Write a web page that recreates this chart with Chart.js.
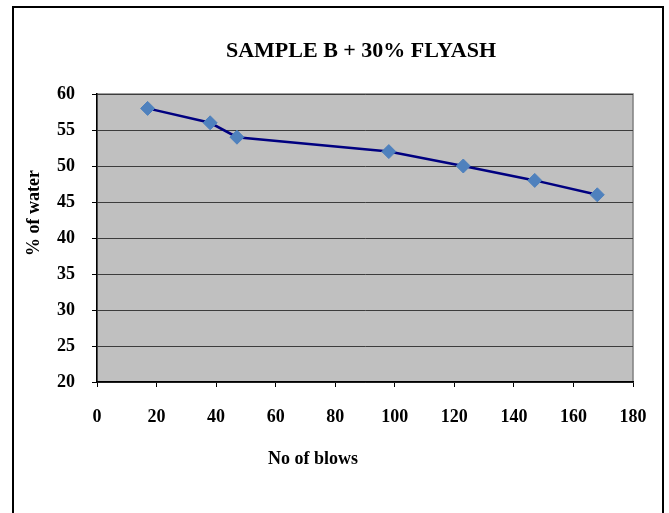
<!DOCTYPE html>
<html>
<head>
<meta charset="utf-8">
<script src="https://cdn.jsdelivr.net/npm/chart.js@4.4.1/dist/chart.umd.min.js"></script>
<style>
    html, body { margin: 0; padding: 0; background: #fff; overflow: hidden; }
    #wrap { position: relative; width: 669px; height: 513px; }
    #frame {
        position: absolute; left: 12px; top: 6px; width: 648px; height: 520px;
        border: 2px solid #000; pointer-events: none;
    }
</style>
</head>
<body>
<div id="wrap">
    <canvas id="liquidLimitChart" width="669" height="513"></canvas>
    <div id="frame"></div>
</div>
<script>
// Liquid limit test - sample B + 30% flyash
const blows = [17, 38, 47, 98, 123, 147, 168];
const waterPct = [58, 56, 54, 52, 50, 48, 46];

const chartTitle = 'SAMPLE B + 30% FLYASH';
const xTitle = 'No of blows';
const yTitle = '% of water';

const serif = '"Liberation Serif", "Times New Roman", serif';

// grey plot area with a thin grey frame, like the old Excel charts
const plotBackground = {
    id: 'plotBackground',
    beforeDraw(chart) {
        const { ctx, chartArea: a } = chart;
        ctx.save();
        ctx.fillStyle = '#c0c0c0';
        ctx.fillRect(a.left, a.top, a.right - a.left, a.bottom - a.top);
        ctx.strokeStyle = '#808080';
        ctx.lineWidth = 1.5;
        ctx.strokeRect(a.left, a.top, a.right - a.left, a.bottom - a.top);
        ctx.restore();
    }
};

// titles are placed by hand, they are not centred on the canvas in the original
const chartLabels = {
    id: 'chartLabels',
    afterDraw(chart) {
        const { ctx, chartArea: a } = chart;
        ctx.save();
        ctx.fillStyle = '#000';
        ctx.textAlign = 'center';
        ctx.textBaseline = 'alphabetic';

        ctx.font = 'bold 22px ' + serif;
        ctx.fillText(chartTitle, (a.left + a.right) / 2 - 4, 57);

        ctx.font = 'bold 18px ' + serif;
        ctx.fillText(xTitle, 313, 464);

        ctx.translate(39, 213);
        ctx.rotate(-Math.PI / 2);
        ctx.fillText(yTitle, 0, 0);
        ctx.restore();
    }
};

new Chart(document.getElementById('liquidLimitChart'), {
    type: 'line',
    data: {
        datasets: [{
            label: 'Sample B + 30% flyash',
            data: blows.map((b, i) => ({ x: b, y: waterPct[i] })),
            borderColor: '#000080',
            borderWidth: 2.5,
            pointStyle: 'rectRot',
            pointRadius: 7,
            pointHoverRadius: 7,
            pointBackgroundColor: '#4f81bd',
            pointBorderColor: '#4f81bd',
            pointBorderWidth: 1,
            tension: 0,
            fill: false
        }]
    },
    options: {
        responsive: false,
        animation: false,
        layout: {
            padding: { left: 0, right: 36, top: 94, bottom: 0 }
        },
        scales: {
            x: {
                type: 'linear',
                min: 0,
                max: 180,
                afterFit(scale) { scale.height = 131; },
                ticks: {
                    stepSize: 20,
                    padding: 20,
                    color: '#000',
                    font: { family: serif, size: 18, weight: 'bold' }
                },
                grid: {
                    drawOnChartArea: false,
                    drawTicks: true,
                    tickLength: 5,
                    tickColor: '#000'
                },
                border: { display: true, color: '#000', width: 1.5 }
            },
            y: {
                min: 20,
                max: 60,
                afterFit(scale) { scale.width = 97; },
                ticks: {
                    stepSize: 5,
                    padding: 17,
                    color: '#000',
                    font: { family: serif, size: 18, weight: 'bold' }
                },
                grid: {
                    color: '#3c3c3c',
                    lineWidth: 1,
                    tickLength: 5,
                    tickColor: '#000'
                },
                border: { display: true, color: '#000', width: 1.5 }
            }
        },
        plugins: {
            legend: { display: false },
            title: { display: false },
            tooltip: { enabled: false }
        }
    },
    plugins: [plotBackground, chartLabels]
});
</script>
</body>
</html>
